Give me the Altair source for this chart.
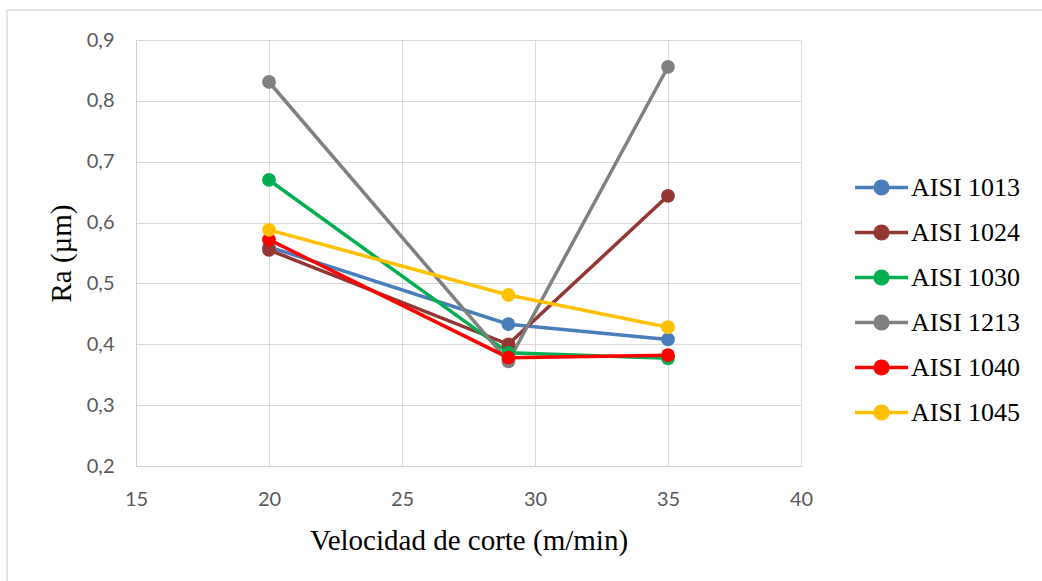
import altair as alt
import pandas as pd

speeds = [20, 29, 35]
series = ["AISI 1013", "AISI 1024", "AISI 1030", "AISI 1213", "AISI 1040", "AISI 1045"]
ra_1013 = [0.560, 0.433, 0.408]
ra_1024 = [0.555, 0.400, 0.644]
ra_1030 = [0.670, 0.386, 0.377]
ra_1213 = [0.831, 0.372, 0.856]
ra_1040 = [0.572, 0.378, 0.382]
ra_1045 = [0.588, 0.481, 0.428]
colors = ["#4a7ebb", "#943634", "#00b050", "#808080", "#ff0000", "#ffc000"]
x_ticks = [15, 20, 25, 30, 35, 40]
y_ticks = [0.2, 0.3, 0.4, 0.5, 0.6, 0.7, 0.8, 0.9]

vals = [ra_1013, ra_1024, ra_1030, ra_1213, ra_1040, ra_1045]
rows = []
for i, (name, v) in enumerate(zip(series, vals)):
    for s, r in zip(speeds, v):
        rows.append({"serie": name, "v": s, "ra": r, "k": i})
df = pd.DataFrame(rows)

sym = "M-1,0L1,0M0.24,0A0.24,0.24,0,1,1,-0.24,0A0.24,0.24,0,1,1,0.24,0Z"


def legend():
    return alt.Legend(
        title=None,
        orient="none",
        legendX=717,
        legendY=119,
        symbolType=sym,
        symbolSize=2809,
        symbolStrokeWidth=3.5,
        symbolOpacity=1,
        labelFont="Liberation Serif",
        labelFontSize=26,
        labelColor="#000000",
        labelOffset=1,
        rowPadding=3,
        padding=0,
        labelLimit=300,
    )


x = alt.X(
    "v:Q",
    scale=alt.Scale(domain=[15, 40], nice=False),
    axis=alt.Axis(
        values=x_ticks,
        title="Velocidad de corte (m/min)",
        titleFont="Liberation Serif",
        titleFontSize=29,
        titleFontWeight="normal",
        titleColor="#000000",
        titlePadding=17,
        labelFont="Lato",
        labelFontSize=20,
        labelColor="#595959",
        labelPadding=23,
        ticks=False,
        domainColor="#d0d0d0",
        gridColor="#d9d9d9",
        labelFlush=False,
    ),
)
y = alt.Y(
    "ra:Q",
    scale=alt.Scale(domain=[0.2, 0.9], nice=False, zero=False),
    axis=alt.Axis(
        values=y_ticks,
        labelExpr="replace(format(datum.value, '.1f'), '.', ',')",
        title="Ra (µm)",
        titleFont="Liberation Serif",
        titleFontSize=29,
        titleFontWeight="normal",
        titleColor="#000000",
        titlePadding=10,
        labelFont="Lato",
        labelFontSize=20,
        labelColor="#595959",
        labelPadding=22,
        ticks=False,
        domainColor="#d0d0d0",
        gridColor="#d9d9d9",
    ),
)

lines = alt.Chart(df).mark_line(strokeWidth=3.5).encode(
    x=x, y=y,
    stroke=alt.Stroke("serie:N", scale=alt.Scale(domain=series, range=colors), sort=series, legend=legend()),
    order="v:Q",
)
points = alt.Chart(df).mark_point(filled=True, size=190, opacity=1).encode(
    x=x, y=y,
    fill=alt.Fill("serie:N", scale=alt.Scale(domain=series, range=colors), sort=series, legend=legend()),
)

border = alt.Chart(pd.DataFrame({"a": [0]})).mark_rect(
    fill=None, stroke="#d9d9d9", strokeWidth=1.5, clip=False
).encode(x=alt.value(-129), x2=alt.value(930), y=alt.value(-30), y2=alt.value(560))

chart = alt.layer(border, lines, points).properties(
    width=665,
    height=426,
    padding={"left": 136, "top": 40, "right": 241, "bottom": 115},
    autosize=alt.AutoSizeParams(type="none"),
    background="#ffffff",
).configure_view(stroke=None)

chart.save("out.html", embed_options={"renderer": "svg", "actions": False})
